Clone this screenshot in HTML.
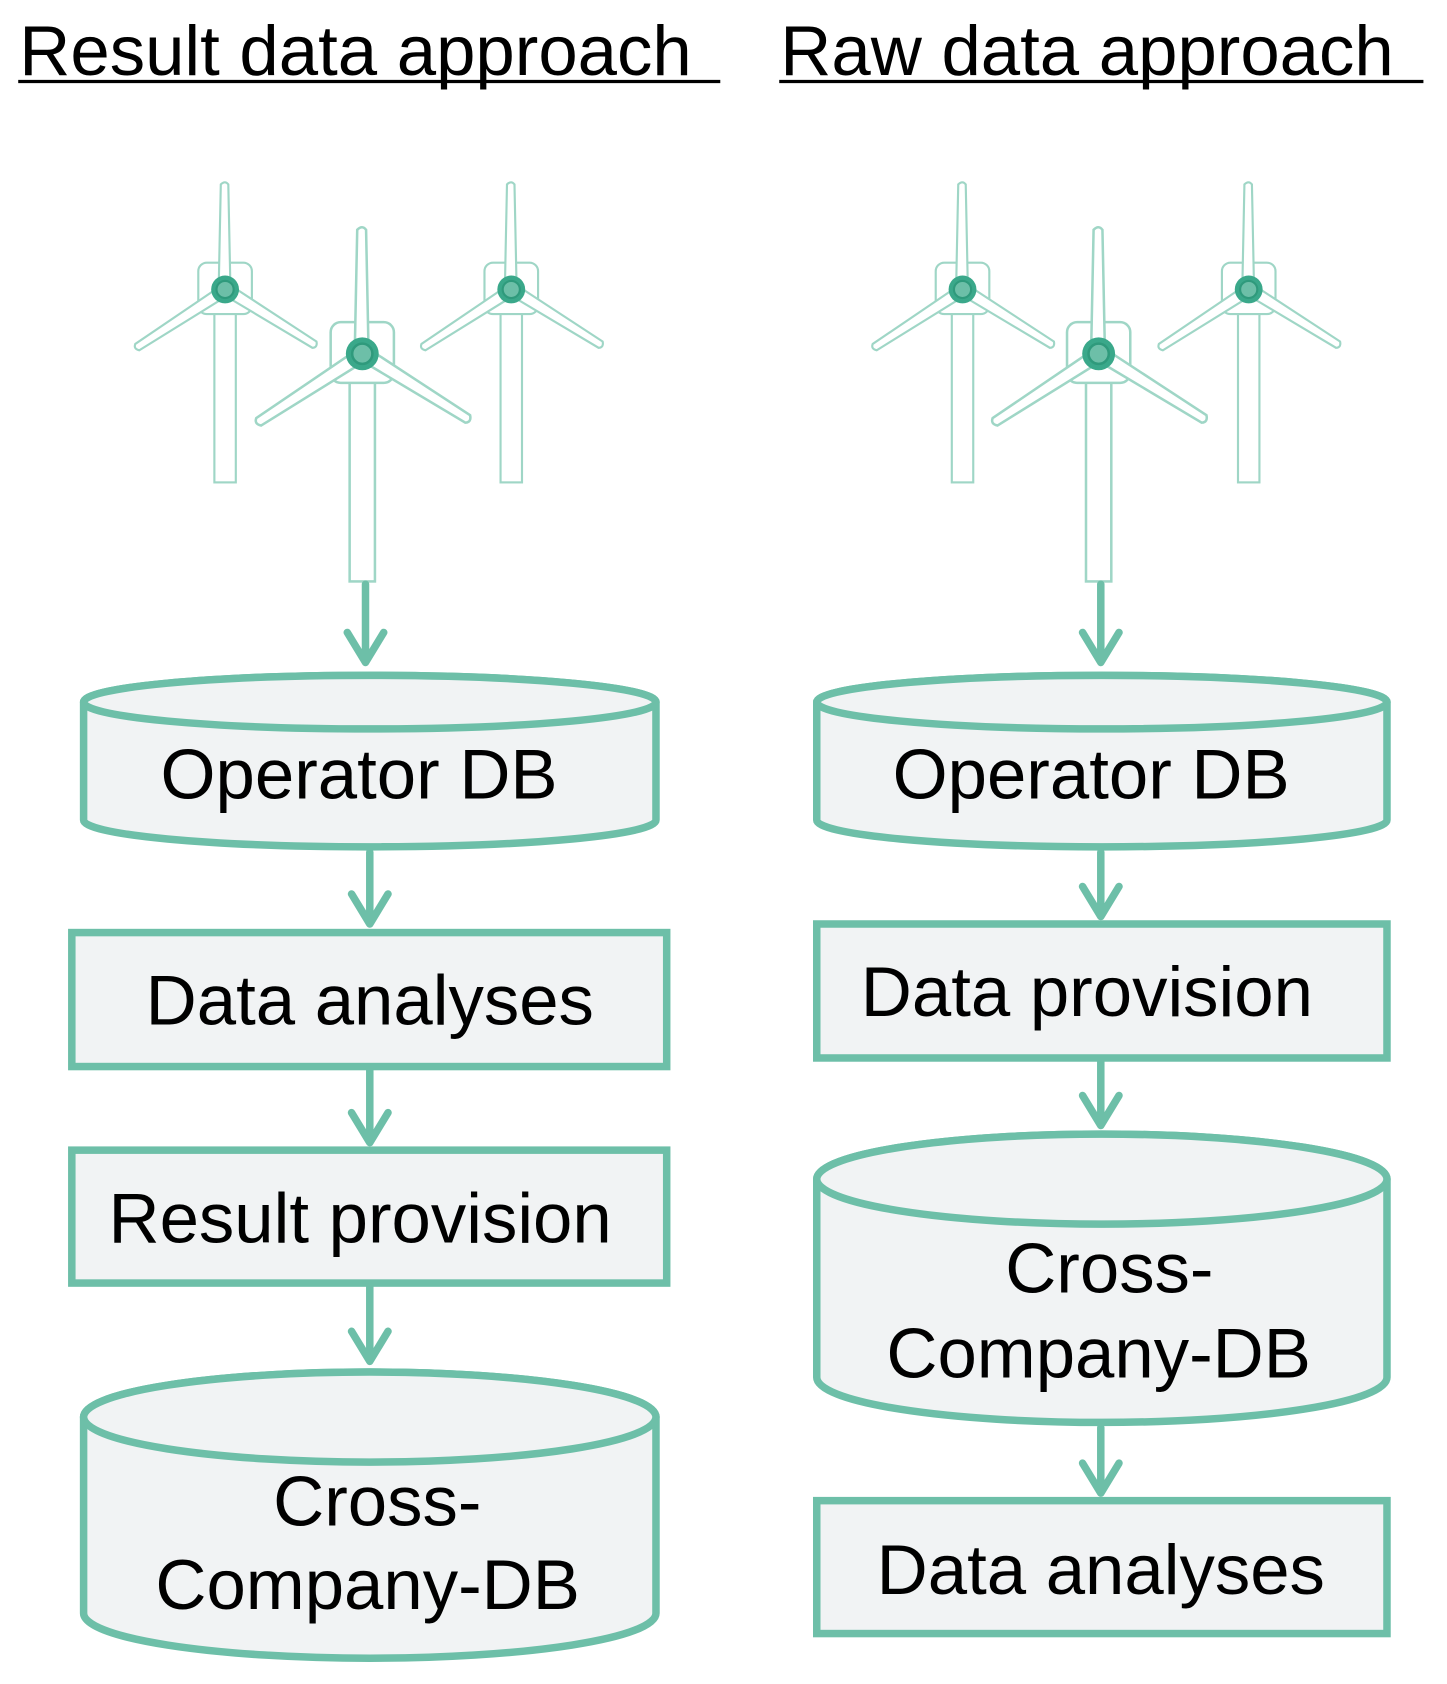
<!DOCTYPE html>
<html><head><style>html,body{margin:0;padding:0;background:#fff}svg{display:block}</style></head>
<body>
<svg width="1447" height="1684" viewBox="0 0 1350 1571" xmlns="http://www.w3.org/2000/svg" font-family="Liberation Sans, Arial, sans-serif">
<defs>
<path id="bl" d="M-5,0 L-3,98 Q0,102 4,98 L6,0 z" fill="#fff" stroke="#9fd6c6" stroke-width="2"/>
<g id="tb">
  <rect x="-10" y="22" width="20" height="158" fill="#fff" stroke="#9fd6c6" stroke-width="2"/>
  <rect x="-25" y="-25" width="50" height="48" rx="8" fill="#fff" stroke="#9fd6c6" stroke-width="2"/>
  <use href="#bl" transform="rotate(180)"/>
  <use href="#bl" transform="rotate(57)"/>
  <use href="#bl" transform="rotate(-58)"/>
  <circle r="13" fill="#3aa88a"/>
  <circle r="8" fill="#6dbfa8" stroke="#2f9a7c" stroke-width="2"/>
</g>
</defs>
<g fill="#000" font-size="66">
<text x="18" y="70">Result data approach</text>
<text x="728" y="70">Raw data approach</text>
</g>
<line x1="17" y1="76" x2="672" y2="76" stroke="#000" stroke-width="3"/>
<line x1="727" y1="76" x2="1328" y2="76" stroke="#000" stroke-width="3"/>

<use href="#tb" transform="translate(210,270)"/>
<use href="#tb" transform="translate(477,270)"/>
<use href="#tb" transform="translate(338,330) scale(1.18)"/>
<use href="#tb" transform="translate(898,270)"/>
<use href="#tb" transform="translate(1165,270)"/>
<use href="#tb" transform="translate(1025,330) scale(1.18)"/>

<g stroke="#6dbfa8" stroke-width="7" fill="none" stroke-linecap="round" stroke-linejoin="round">
 <path d="M341,545 V618 M324,590 L341,618 L358,590"/>
 <path d="M345,795 V862 M328,834 L345,862 L362,834"/>
 <path d="M345,998 V1066 M328,1038 L345,1066 L362,1038"/>
 <path d="M345,1200 V1270 M328,1242 L345,1270 L362,1242"/>
 <path d="M1027,545 V618 M1010,590 L1027,618 L1044,590"/>
 <path d="M1027,795 V855 M1010,827 L1027,855 L1044,827"/>
 <path d="M1027,990 V1050 M1010,1022 L1027,1050 L1044,1022"/>
 <path d="M1027,1332 V1393 M1010,1365 L1027,1393 L1044,1365"/>
</g>

<g stroke="#6dbfa8" stroke-width="7" fill="#f1f3f4">
 <path d="M78,655 V765 A267,25 0 0 0 612,765 V655 A267,25 0 0 0 78,655 Z"/>
 <ellipse cx="345" cy="655" rx="267" ry="25"/>
 <rect x="67" y="870" width="555" height="125"/>
 <rect x="67" y="1073" width="555" height="124"/>
 <path d="M78,1322 V1505 A267,42 0 0 0 612,1505 V1322 A267,42 0 0 0 78,1322 Z"/>
 <ellipse cx="345" cy="1322" rx="267" ry="42"/>

 <path d="M762,655 V765 A266,25 0 0 0 1294,765 V655 A266,25 0 0 0 762,655 Z"/>
 <ellipse cx="1028" cy="655" rx="266" ry="25"/>
 <rect x="762" y="862" width="532" height="125"/>
 <path d="M762,1100 V1285 A266,42 0 0 0 1294,1285 V1100 A266,42 0 0 0 762,1100 Z"/>
 <ellipse cx="1028" cy="1100" rx="266" ry="42"/>
 <rect x="762" y="1400" width="532" height="124"/>
</g>

<g fill="#000" font-size="66" text-anchor="middle">
 <text x="335" y="745">Operator DB</text>
 <text x="345" y="956">Data analyses</text>
 <text x="336" y="1159">Result provision</text>
 <text x="352" y="1423">Cross-</text>
 <text x="343" y="1501">Company-DB</text>
 <text x="1018" y="745">Operator DB</text>
 <text x="1014" y="948">Data provision</text>
 <text x="1035" y="1206">Cross-</text>
 <text x="1025" y="1285">Company-DB</text>
 <text x="1027" y="1487">Data analyses</text>
</g>
</svg>
</body></html>
